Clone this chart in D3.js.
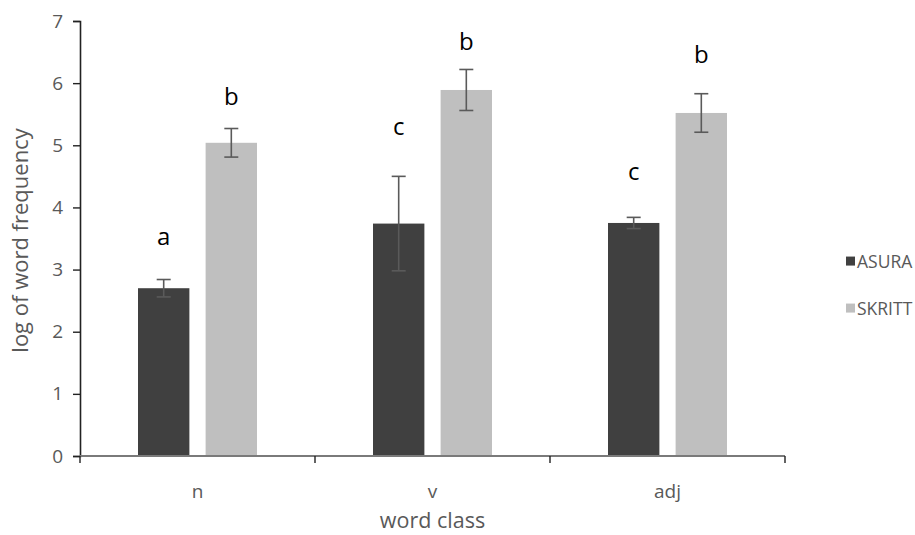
<!DOCTYPE html>
<html>
<head>
<meta charset="utf-8">
<script src="https://cdn.jsdelivr.net/npm/d3@7"></script>
<style>
  body { margin: 0; background: #fff; }
  text { font-family: "Open Sans", sans-serif; }
</style>
</head>
<body>
<div id="chart"></div>
<script>
// data
const categories = ["n", "v", "adj"];
const seriesNames = ["ASURA", "SKRITT"];
const asura = [2.70, 3.74, 3.75];
const asuraErr = [0.14, 0.76, 0.09];
const skritt = [5.04, 5.89, 5.52];
const skrittErr = [0.23, 0.33, 0.31];
const asuraLetters = ["a", "c", "c"];
const skrittLetters = ["b", "b", "b"];
const asuraLetterY = [3.53, 5.30, 4.57];
const skrittLetterY = [5.78, 6.67, 6.46];
const yTicks = [0, 1, 2, 3, 4, 5, 6, 7];

const colors = ["#404040", "#bfbfbf"];

const W = 915, H = 535;
const margin = {top: 21, right: 130, bottom: 79, left: 80},
      width = 785 - margin.left,
      height = 456 - margin.top;

const svg = d3.select("#chart")
    .append("svg")
    .attr("width", W)
    .attr("height", H)
    .append("g")
    .attr("transform", `translate(${margin.left}, ${margin.top})`);

// scales
const x = d3.scaleBand()
    .domain(categories)
    .range([0, width])
    .paddingInner(0)
    .paddingOuter(0);

const x1 = d3.scaleBand()
    .domain(seriesNames)
    .range([x.bandwidth() / 2 - 59.5, x.bandwidth() / 2 + 59.5])
    .paddingInner(0.24)
    .paddingOuter(0);

const y = d3.scaleLinear()
    .domain([0, 7])
    .range([height, 0]);

const rows = categories.map((c, i) => ({
  cat: c,
  vals: [
    {s: "ASURA", v: asura[i], e: asuraErr[i], l: asuraLetters[i], ly: asuraLetterY[i]},
    {s: "SKRITT", v: skritt[i], e: skrittErr[i], l: skrittLetters[i], ly: skrittLetterY[i]}
  ]
}));

// bars
const groups = svg.selectAll(".grp")
    .data(rows)
    .join("g")
    .attr("class", "grp")
    .attr("transform", d => `translate(${x(d.cat)},0)`);

groups.selectAll("rect")
    .data(d => d.vals)
    .join("rect")
    .attr("x", d => x1(d.s))
    .attr("width", x1.bandwidth())
    .attr("y", d => y(d.v))
    .attr("height", d => height - y(d.v))
    .attr("fill", (d, i) => colors[i]);

// error bars
const eb = groups.selectAll(".err")
    .data(d => d.vals)
    .join("g")
    .attr("class", "err")
    .attr("stroke", "#5a5a5a")
    .attr("stroke-width", 1.6);

eb.append("line")
    .attr("x1", d => x1(d.s) + x1.bandwidth() / 2)
    .attr("x2", d => x1(d.s) + x1.bandwidth() / 2)
    .attr("y1", d => y(d.v + d.e))
    .attr("y2", d => y(d.v - d.e));
eb.append("line")
    .attr("x1", d => x1(d.s) + x1.bandwidth() / 2 - 7)
    .attr("x2", d => x1(d.s) + x1.bandwidth() / 2 + 7)
    .attr("y1", d => y(d.v + d.e))
    .attr("y2", d => y(d.v + d.e));
eb.append("line")
    .attr("x1", d => x1(d.s) + x1.bandwidth() / 2 - 7)
    .attr("x2", d => x1(d.s) + x1.bandwidth() / 2 + 7)
    .attr("y1", d => y(d.v - d.e))
    .attr("y2", d => y(d.v - d.e));

// significance letters
groups.selectAll(".lab")
    .data(d => d.vals)
    .join("text")
    .attr("class", "lab")
    .attr("x", d => x1(d.s) + x1.bandwidth() / 2)
    .attr("y", d => y(d.ly))
    .attr("dy", "0.35em")
    .attr("text-anchor", "middle")
    .attr("font-size", 24)
    .attr("fill", "#000")
    .text(d => d.l);

// Y axis
const yAxis = svg.append("g")
    .call(d3.axisLeft(y).tickValues(yTicks).tickFormat(d3.format("d")).tickSize(7).tickPadding(10));
yAxis.select(".domain").attr("stroke", "#222").attr("stroke-width", 1.6);
yAxis.selectAll(".tick line").attr("stroke", "#222").attr("stroke-width", 1.4);
yAxis.selectAll("text").attr("font-size", 19).attr("fill", "#595959")
    .attr("font-family", "Open Sans, sans-serif");

// X axis: ticks between categories
const xAxis = svg.append("g")
    .attr("transform", `translate(0, ${height})`);
xAxis.append("line")
    .attr("x1", 0).attr("x2", width)
    .attr("stroke", "#7a7a7a").attr("stroke-width", 2);
xAxis.selectAll(".xt")
    .data([0].concat(categories.map(c => x(c) + x.bandwidth())))
    .join("line")
    .attr("class", "xt")
    .attr("x1", d => d).attr("x2", d => d)
    .attr("y1", 0).attr("y2", 7)
    .attr("stroke", "#222").attr("stroke-width", 1.4);
xAxis.selectAll(".xl")
    .data(categories)
    .join("text")
    .attr("class", "xl")
    .attr("x", d => x(d) + x.bandwidth() / 2)
    .attr("y", 42)
    .attr("text-anchor", "middle")
    .attr("font-size", 19)
    .attr("fill", "#595959")
    .text(d => d);

// axis titles
svg.append("text")
    .attr("x", x("v") + x.bandwidth() / 2)
    .attr("y", height + 72)
    .attr("text-anchor", "middle")
    .attr("font-size", 21.5)
    .attr("fill", "#595959")
    .text("word class");

svg.append("text")
    .attr("transform", `translate(-52, ${height / 2 + 2}) rotate(-90)`)
    .attr("text-anchor", "middle")
    .attr("font-size", 22)
    .attr("fill", "#595959")
    .text("log of word frequency");

// legend
const legend = svg.append("g")
    .attr("transform", `translate(${W - margin.left - 69}, ${y(3) - 8})`);
const li = legend.selectAll("g")
    .data(seriesNames)
    .join("g")
    .attr("transform", (d, i) => `translate(0, ${i * 47})`);
li.append("rect")
    .attr("x", 0).attr("y", -5)
    .attr("width", 9).attr("height", 9)
    .attr("fill", (d, i) => colors[i]);
li.append("text")
    .attr("x", 11)
    .attr("y", 0)
    .attr("dy", "0.35em")
    .attr("font-size", 17.5)
    .attr("fill", "#595959")
    .text(d => d);
</script>
</body>
</html>
